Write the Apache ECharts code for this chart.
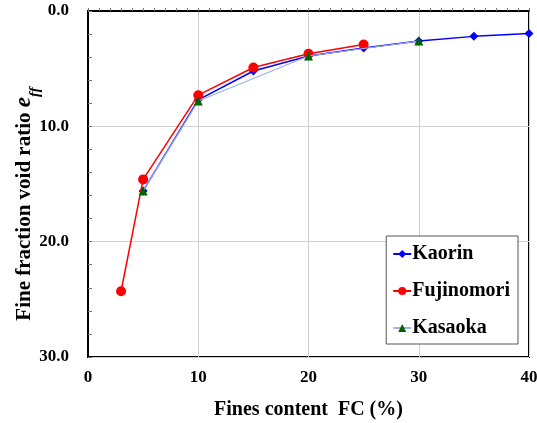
<!DOCTYPE html>
<html>
<head>
<meta charset="utf-8">
<script src="https://cdn.jsdelivr.net/npm/echarts@6/dist/echarts.min.js"></script>
<style>html,body{margin:0;padding:0;background:#fff;}#c{width:537px;height:423px;}</style>
</head>
<body>
<div id="c"></div>
<script>
var kaorinFC = [5, 10, 15, 20, 25, 30, 35, 40];
var kaorinE = [15.6, 7.7, 5.2, 3.9, 3.2, 2.6, 2.2, 1.95];
var fujiFC = [3, 5, 10, 15, 20, 25];
var fujiE = [24.3, 14.6, 7.3, 4.9, 3.7, 2.9];
var kasaFC = [5, 10, 20, 30];
var kasaE = [15.6, 7.8, 3.9, 2.6];
var xTicks = [0, 10, 20, 30, 40];
var yTicks = [0, 10, 20, 30];

function pairs(xs, ys) { return xs.map(function (x, i) { return [x, ys[i]]; }); }
var FONT = '"Liberation Serif","Times New Roman",serif';

var chart = echarts.init(document.getElementById('c'), null, {renderer: 'canvas'});
chart.setOption({
  animation: false,
  backgroundColor: '#fff',
  textStyle: {fontFamily: FONT},
  grid: {left: 88, right: 8, top: 11, bottom: 66, containLabel: false, outerBoundsMode: 'none',
         show: true, borderColor: '#000', borderWidth: 2, backgroundColor: 'transparent'},
  legend: {
    right: 19, top: 236, orient: 'vertical', itemGap: 17,
    backgroundColor: '#fff', borderColor: '#555', borderWidth: 1,
    padding: [8, 8, 6, 6], itemWidth: 18, itemHeight: 10,
    textStyle: {fontFamily: FONT, fontWeight: 'bold', fontSize: 20, color: '#000', padding: [0, 0, 0, -4]},
    data: ['Kaorin', 'Fujinomori', 'Kasaoka']
  },
  xAxis: {
    type: 'value', min: xTicks[0], max: xTicks[xTicks.length - 1], interval: 10,
    name: 'Fines content  FC (%)', nameLocation: 'middle', nameGap: 43, nameMoveOverlap: false,
    nameTextStyle: {fontFamily: FONT, fontWeight: 'bold', fontSize: 20, color: '#000'},
    axisLine: {show: true, lineStyle: {color: '#000', width: 2}},
    axisTick: {show: true, inside: true, length: 3, lineStyle: {color: '#777', width: 1}},
    minorTick: {show: true, splitNumber: 10, length: 3, lineStyle: {color: '#777', width: 1}},
    splitLine: {show: true, lineStyle: {color: '#d0d0d0', width: 1}},
    axisLabel: {fontFamily: FONT, fontWeight: 'bold', fontSize: 17, color: '#000', margin: 12}
  },
  yAxis: {
    type: 'value', inverse: true, min: yTicks[0], max: yTicks[yTicks.length - 1], interval: 10,
    name: 'Fine fraction void ratio {i|e}{s|ff}', nameLocation: 'middle', nameGap: 52, nameMoveOverlap: false,
    nameTextStyle: {fontFamily: FONT, fontWeight: 'bold', fontSize: 21, color: '#000', padding: [0, 40, 0, 0],
      rich: {i: {fontFamily: FONT, fontWeight: 'bold', fontStyle: 'italic', fontSize: 23, color: '#000'},
             s: {fontFamily: FONT, fontWeight: 'bold', fontStyle: 'italic', fontSize: 15, color: '#000', verticalAlign: 'bottom', padding: [0, 0, -7, 0]}}},
    axisLine: {show: true, lineStyle: {color: '#000', width: 2}},
    axisTick: {show: true, inside: true, length: 4, lineStyle: {color: '#777', width: 1}},
    minorTick: {show: true, splitNumber: 5, length: 4, lineStyle: {color: '#777', width: 1}},
    splitLine: {show: true, lineStyle: {color: '#d0d0d0', width: 1}},
    axisLabel: {fontFamily: FONT, fontWeight: 'bold', fontSize: 17, color: '#000', margin: 19,
      formatter: function (v) { return v.toFixed(1); }}
  },
  series: [
    {name: 'Kaorin', type: 'line', data: pairs(kaorinFC, kaorinE), symbol: 'diamond', symbolSize: 9,
     lineStyle: {color: '#0000ff', width: 1.5}, itemStyle: {color: '#0000ff'}, z: 2},
    {name: 'Fujinomori', type: 'line', data: pairs(fujiFC, fujiE), symbol: 'circle', symbolSize: 10,
     lineStyle: {color: '#ff0000', width: 1.5}, itemStyle: {color: '#ff0000'}, z: 3},
    {name: 'Kasaoka', type: 'line', data: pairs(kasaFC, kasaE), symbol: 'triangle', symbolSize: 9,
     lineStyle: {color: '#9db2e8', width: 1.2}, itemStyle: {color: '#006400'}, z: 4}
  ]
});
</script>
</body>
</html>
